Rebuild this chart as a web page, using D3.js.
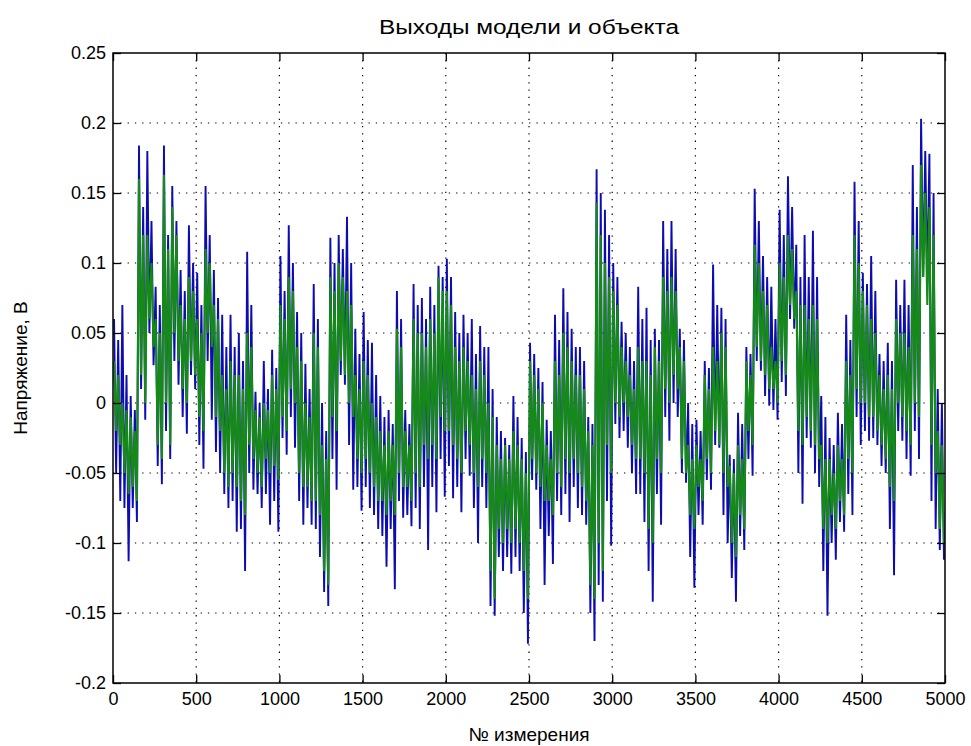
<!DOCTYPE html>
<html><head><meta charset="utf-8">
<script src="https://cdn.jsdelivr.net/npm/d3@7/dist/d3.min.js"></script>
<style>body{margin:0;background:#fff}svg text{font-family:"Liberation Sans",Arial,sans-serif;fill:#000}</style>
</head><body><svg id="c" width="971" height="746"></svg>
<script>
const titleText = "Выходы модели и объекта";
const xLabelText = "№ измерения";
const yLabelText = "Напряжение, В";
const xTicks = [0,500,1000,1500,2000,2500,3000,3500,4000,4500,5000];
const xTickLabels = ["0","500","1000","1500","2000","2500","3000","3500","4000","4500","5000"];
const yTicks = [-0.2,-0.15,-0.1,-0.05,0,0.05,0.1,0.15,0.2,0.25];
const yTickLabels = ["-0.2","-0.15","-0.1","-0.05","0","0.05","0.1","0.15","0.2","0.25"];
const binSize = 50; // samples per bin
// object output (blue): per-bin extreme max / min
const blueHi = [0.06,0.07,0.005,0.184,0.18,0.083,0.184,0.155,0.095,0.127,
0.093,0.155,0.095,0.063,0.063,0.05,0.108,0.008,0.03,0.038,
0.105,0.127,0.065,0.028,0.085,0.0,0.118,0.12,0.133,0.053,
0.065,0.043,0.005,-0.005,0.08,-0.005,0.085,0.075,0.083,0.098,
0.103,0.065,0.063,0.06,0.055,0.04,-0.01,-0.025,0.005,-0.025,
0.043,0.025,-0.012,0.063,0.082,0.053,0.04,-0.01,0.167,0.138,
0.1,0.058,0.04,0.083,0.068,0.053,0.13,0.13,0.053,0.0,
-0.012,0.03,0.099,0.068,-0.037,-0.007,0.04,0.153,0.105,0.083,
0.138,0.162,0.113,0.12,0.123,0.005,-0.025,-0.007,0.063,0.158,
0.093,0.105,0.035,0.043,0.088,0.088,0.17,0.203,0.178,0.01];
const blueLo = [-0.07,-0.113,-0.085,-0.012,0.027,-0.058,-0.04,0.013,-0.022,0.01,
-0.047,-0.012,-0.05,-0.075,-0.092,-0.12,-0.062,-0.075,-0.087,-0.092,
-0.037,-0.032,-0.087,-0.087,-0.11,-0.145,-0.062,0.013,-0.062,-0.077,
-0.075,-0.09,-0.117,-0.133,-0.082,-0.088,-0.09,-0.105,-0.078,-0.067,
-0.068,-0.078,-0.052,-0.1,-0.075,-0.152,-0.12,-0.122,-0.12,-0.172,
-0.062,-0.13,-0.115,-0.08,-0.085,-0.075,-0.087,-0.17,-0.142,-0.102,
-0.025,-0.032,-0.065,-0.085,-0.142,-0.087,-0.027,-0.01,-0.057,-0.132,
-0.087,-0.062,-0.032,-0.1,-0.142,-0.105,-0.052,0.023,-0.002,-0.012,
0.005,0.053,-0.072,-0.032,-0.06,-0.152,-0.112,-0.092,-0.08,-0.03,
-0.027,-0.03,-0.05,-0.123,-0.027,-0.052,-0.04,0.085,-0.09,-0.112];
// object output (blue): per-bin secondary peak / trough
const blueInHi = [0.045,0.02,-0.005,0.14,0.13,0.07,0.12,0.13,0.08,0.1,
0.07,0.12,0.075,0.04,0.04,0.03,0.07,0.0,0.01,0.025,
0.08,0.1,0.05,0.01,0.06,-0.02,0.1,0.11,0.1,0.035,
0.045,0.02,-0.01,-0.015,0.06,-0.015,0.07,0.06,0.07,0.09,
0.09,0.05,0.05,0.035,0.04,0.01,-0.02,-0.03,-0.01,-0.035,
0.035,0.015,-0.02,0.045,0.065,0.04,0.03,-0.015,0.15,0.12,
0.09,0.05,0.03,0.06,0.045,0.045,0.11,0.11,0.045,-0.015,
-0.02,0.025,0.07,0.06,-0.04,-0.015,0.035,0.13,0.09,0.06,
0.12,0.14,0.09,0.09,0.09,-0.01,-0.03,-0.015,0.045,0.13,
0.085,0.08,0.03,0.03,0.07,0.07,0.14,0.18,0.15,0.0];
const blueInLo = [-0.05,-0.075,-0.075,0.01,0.05,-0.045,-0.02,0.03,-0.01,0.02,
-0.03,0.03,-0.035,-0.065,-0.07,-0.09,-0.05,-0.065,-0.065,-0.07,
-0.025,-0.01,-0.07,-0.075,-0.09,-0.135,-0.04,0.02,-0.03,-0.06,
-0.06,-0.08,-0.095,-0.09,-0.07,-0.08,-0.075,-0.06,-0.06,-0.04,
-0.045,-0.06,-0.04,-0.075,-0.06,-0.145,-0.11,-0.11,-0.11,-0.15,
-0.055,-0.09,-0.095,-0.07,-0.065,-0.06,-0.08,-0.15,-0.13,-0.07,
-0.015,-0.02,-0.05,-0.065,-0.12,-0.065,-0.01,0.0,-0.05,-0.11,
-0.08,-0.055,-0.03,-0.08,-0.125,-0.095,-0.04,0.03,0.005,-0.005,
0.015,0.06,-0.05,-0.025,-0.05,-0.12,-0.1,-0.085,-0.065,-0.01,
-0.02,-0.025,-0.045,-0.09,-0.02,-0.04,-0.02,0.09,-0.07,-0.105];
// model output (green): per-bin extreme max / min
const greenHi = [0.03,0.0,-0.01,0.16,0.12,0.06,0.163,0.14,0.07,0.09,
0.06,0.11,0.07,0.02,0.03,0.02,0.05,-0.005,0.0,0.02,
0.07,0.09,0.04,0.0,0.05,-0.03,0.09,0.1,0.08,0.02,
0.03,0.0,-0.02,-0.02,0.053,-0.02,0.06,0.05,0.06,0.09,
0.08,0.04,0.04,0.02,0.03,0.0,-0.03,-0.03,-0.02,-0.04,
0.03,0.01,-0.03,0.03,0.05,0.03,0.02,-0.02,0.143,0.1,
0.08,0.04,0.02,0.04,0.03,0.04,0.09,0.09,0.04,-0.03,
-0.03,0.02,0.04,0.05,-0.045,-0.03,0.03,0.113,0.08,0.04,
0.1,0.12,0.08,0.07,0.07,-0.03,-0.04,-0.03,0.03,0.12,
0.08,0.06,0.02,0.02,0.06,0.05,0.12,0.17,0.14,-0.02];
const greenLo = [-0.03,-0.065,-0.07,0.0,0.04,-0.04,-0.03,0.03,0.0,0.02,
-0.02,0.04,-0.02,-0.06,-0.06,-0.08,-0.04,-0.06,-0.05,-0.055,
-0.02,0.0,-0.06,-0.07,-0.08,-0.13,-0.02,0.02,-0.01,-0.05,
-0.05,-0.07,-0.08,-0.08,-0.06,-0.07,-0.06,-0.04,-0.04,-0.02,
-0.03,-0.05,-0.03,-0.06,-0.05,-0.14,-0.1,-0.1,-0.1,-0.14,
-0.05,-0.07,-0.08,-0.06,-0.05,-0.05,-0.07,-0.14,-0.12,-0.05,
-0.01,-0.01,-0.04,-0.05,-0.1,-0.05,0.0,0.01,-0.05,-0.09,
-0.07,-0.05,-0.03,-0.06,-0.11,-0.09,-0.03,0.03,0.01,0.0,
0.02,0.06,-0.03,-0.02,-0.04,-0.1,-0.09,-0.08,-0.05,0.0,
-0.01,-0.02,-0.04,-0.07,-0.01,-0.03,-0.01,0.07,-0.05,-0.1];
// model output (green): per-bin secondary peak / trough
const greenInHi = [0.02,-0.005,-0.02,0.12,0.1,0.05,0.11,0.12,0.06,0.08,
0.05,0.1,0.06,0.01,0.02,0.01,0.04,-0.01,-0.005,0.01,
0.06,0.08,0.03,-0.01,0.04,-0.04,0.08,0.09,0.07,0.01,
0.02,-0.01,-0.03,-0.03,0.04,-0.03,0.05,0.04,0.05,0.08,
0.07,0.03,0.03,0.01,0.02,-0.01,-0.04,-0.04,-0.03,-0.05,
0.02,0.0,-0.04,0.02,0.04,0.02,0.01,-0.03,0.12,0.09,
0.07,0.03,0.01,0.03,0.02,0.03,0.08,0.08,0.03,-0.04,
-0.04,0.01,0.03,0.04,-0.05,-0.04,0.02,0.1,0.07,0.03,
0.09,0.11,0.07,0.06,0.06,-0.04,-0.05,-0.04,0.02,0.1,
0.07,0.05,0.01,0.01,0.05,0.04,0.11,0.15,0.12,-0.03];
const greenInLo = [-0.02,-0.05,-0.06,0.02,0.06,-0.03,0.0,0.05,0.01,0.03,
-0.01,0.05,-0.01,-0.05,-0.05,-0.07,-0.03,-0.05,-0.04,-0.045,
-0.01,0.01,-0.05,-0.06,-0.07,-0.12,-0.01,0.03,0.0,-0.04,
-0.04,-0.06,-0.07,-0.07,-0.05,-0.06,-0.05,-0.03,-0.03,-0.01,
-0.02,-0.04,-0.02,-0.05,-0.04,-0.12,-0.09,-0.09,-0.09,-0.12,
-0.04,-0.06,-0.07,-0.05,-0.04,-0.04,-0.06,-0.13,-0.1,-0.03,
0.0,0.0,-0.03,-0.04,-0.09,-0.04,0.01,0.02,-0.04,-0.08,
-0.06,-0.04,-0.02,-0.05,-0.1,-0.08,-0.02,0.04,0.02,0.01,
0.03,0.07,-0.02,-0.01,-0.03,-0.09,-0.08,-0.07,-0.04,0.01,
0.0,-0.01,-0.03,-0.06,0.0,-0.02,0.0,0.09,-0.03,-0.09];

const W = 971, H = 746;
const svg = d3.select("#c");
svg.append("rect").attr("width", W).attr("height", H).attr("fill", "#fff");
const x = d3.scaleLinear().domain([0, 5000]).range([113, 945]);
const y = d3.scaleLinear().domain([-0.2, 0.25]).range([683, 53]);

// grid
const grid = svg.append("g").attr("stroke", "#000").attr("stroke-width", 1.2).attr("stroke-dasharray", "1.3,6");
grid.selectAll("line.gx").data(xTicks.slice(1, -1)).join("line")
  .attr("x1", d => x(d)).attr("x2", d => x(d)).attr("y1", y(0.25)).attr("y2", y(-0.2));
grid.selectAll("line.gy").data(yTicks.slice(1, -1)).join("line")
  .attr("y1", d => y(d)).attr("y2", d => y(d)).attr("x1", x(0)).attr("x2", x(5000));

// each bin: extreme peak, secondary trough, secondary peak, extreme trough
function series(hi, inLo, inHi, lo) {
  const pts = [];
  hi.forEach((h, i) => {
    const s = i * binSize;
    pts.push([s + binSize * 0.125, h]);
    pts.push([s + binSize * 0.375, inLo[i]]);
    pts.push([s + binSize * 0.625, inHi[i]]);
    pts.push([s + binSize * 0.875, lo[i]]);
  });
  return pts;
}
const line = d3.line().x(d => x(d[0])).y(d => y(d[1]));
svg.append("path").datum(series(blueHi, blueInLo, blueInHi, blueLo)).attr("d", line)
  .attr("fill", "none").attr("stroke", "#0c0cb0").attr("stroke-width", 1.9);
svg.append("path").datum(series(greenHi, greenInLo, greenInHi, greenLo)).attr("d", line)
  .attr("fill", "none").attr("stroke", "#168a18").attr("stroke-width", 2.1);

// axes
const fs = 18;
const gx = svg.append("g").attr("transform", `translate(0,${y(-0.2)})`)
  .call(d3.axisBottom(x).tickValues(xTicks).tickSize(-8).tickPadding(9).tickFormat((d, i) => xTickLabels[i]));
const gy = svg.append("g").attr("transform", `translate(${x(0)},0)`)
  .call(d3.axisLeft(y).tickValues(yTicks).tickSize(-8).tickPadding(7).tickFormat((d, i) => yTickLabels[i]));
const gt = svg.append("g").attr("transform", `translate(0,${y(0.25)})`)
  .call(d3.axisTop(x).tickValues(xTicks).tickSize(-8).tickFormat(""));
const gr = svg.append("g").attr("transform", `translate(${x(5000)},0)`)
  .call(d3.axisRight(y).tickValues(yTicks).tickSize(-8).tickFormat(""));
[gx, gy, gt, gr].forEach(g => {
  g.select(".domain").remove();
  g.selectAll("line").attr("stroke", "#000").attr("stroke-width", 1.3);
  g.selectAll("text").attr("font-size", fs).attr("font-family", '"Liberation Sans",Arial,sans-serif').attr("fill", "#000");
});
svg.append("rect").attr("x", x(0)).attr("y", y(0.25)).attr("width", x(5000) - x(0)).attr("height", y(-0.2) - y(0.25))
  .attr("fill", "none").attr("stroke", "#000").attr("stroke-width", 1.5);

svg.append("text").attr("x", (x(0) + x(5000)) / 2).attr("y", 34).attr("text-anchor", "middle").attr("font-size", 20)
  .attr("textLength", 300).attr("lengthAdjust", "spacingAndGlyphs").text(titleText);
svg.append("text").attr("x", (x(0) + x(5000)) / 2).attr("y", 741).attr("text-anchor", "middle").attr("font-size", 19).text(xLabelText);
svg.append("text").attr("transform", `translate(27,${(y(0.25) + y(-0.2)) / 2}) rotate(-90)`).attr("text-anchor", "middle").attr("font-size", 19).text(yLabelText);
</script></body></html>
